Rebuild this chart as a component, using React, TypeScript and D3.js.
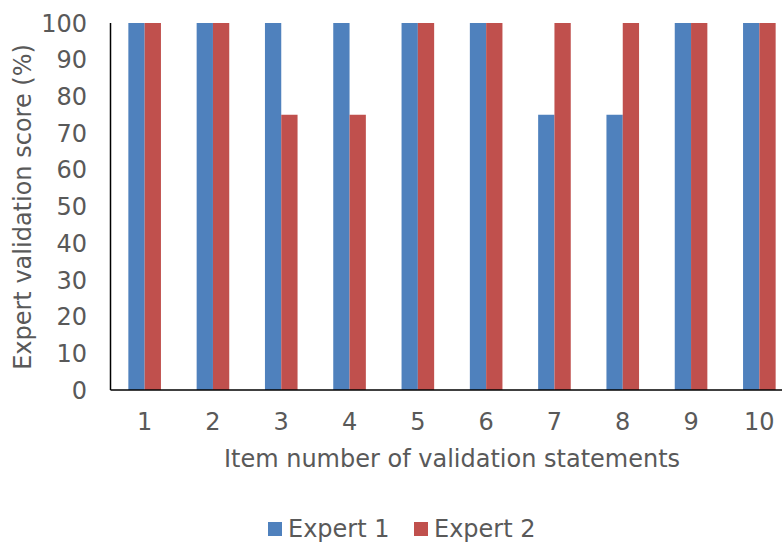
import React from "react";
import * as d3 from "d3";

const items = ["1", "2", "3", "4", "5", "6", "7", "8", "9", "10"];
const expert1 = [100, 100, 100, 100, 100, 100, 75, 75, 100, 100];
const expert2 = [100, 100, 75, 75, 100, 100, 100, 100, 100, 100];
const seriesNames = ["Expert 1", "Expert 2"];
const seriesColors = ["#4F81BD", "#C0504D"];
const yTicks = [0, 10, 20, 30, 40, 50, 60, 70, 80, 90, 100];

const W = 782;
const H = 542;
const plotLeft = 110.5;
const plotTop = 23;
const plotBottom = 390;
const bandW = 68.3;
const font = "'DejaVu Sans', Verdana, sans-serif";
const textColor = "#595959";
const fs = 24;

export default function App() {
  const x = d3
    .scaleBand<string>()
    .domain(items)
    .range([plotLeft, plotLeft + bandW * items.length])
    .paddingInner(0)
    .paddingOuter(0);
  const barW = 16.3;
  const inner = d3
    .scaleBand<string>()
    .domain(seriesNames)
    .range([x.bandwidth() / 2 - barW, x.bandwidth() / 2 + barW]);
  const y = d3.scaleLinear().domain([0, 100]).range([plotBottom, plotTop]);
  const series = [expert1, expert2];

  return (
    <svg
      width={W}
      height={H}
      style={{ position: "absolute", left: 0, top: 0, background: "#fff" }}
      fontFamily={font}
    >
      {series.map((vals, si) =>
        vals.map((v, i) => (
          <rect
            key={`${si}-${i}`}
            x={(x(items[i]) as number) + (inner(seriesNames[si]) as number)}
            y={y(v)}
            width={inner.bandwidth()}
            height={y(0) - y(v)}
            fill={seriesColors[si]}
          />
        ))
      )}
      <line x1={plotLeft} x2={plotLeft} y1={plotTop} y2={plotBottom} stroke="#000" strokeWidth={1.5} />
      <line x1={plotLeft} x2={W} y1={plotBottom} y2={plotBottom} stroke="#000" strokeWidth={1.5} />
      {yTicks.map((t) => (
        <text
          key={t}
          x={87}
          y={y(t)}
          dy="0.36em"
          textAnchor="end"
          fontSize={fs}
          fill={textColor}
        >
          {t}
        </text>
      ))}
      {items.map((c) => (
        <text
          key={c}
          x={(x(c) as number) + x.bandwidth() / 2}
          y={430}
          textAnchor="middle"
          fontSize={fs}
          fill={textColor}
        >
          {c}
        </text>
      ))}
      <text x={452} y={467} textAnchor="middle" fontSize={fs} fill={textColor}>
        Item number of validation statements
      </text>
      <text
        transform={`translate(31,207) rotate(-90)`}
        textAnchor="middle"
        fontSize={fs}
        fill={textColor}
      >
        Expert validation score (%)
      </text>
      {seriesNames.map((name, i) => {
        const lx = [268, 414][i];
        return (
          <g key={name}>
            <rect x={lx} y={522} width={14} height={14} fill={seriesColors[i]} />
            <text x={lx + 20} y={537} fontSize={fs} fill={textColor}>
              {name}
            </text>
          </g>
        );
      })}
    </svg>
  );
}
